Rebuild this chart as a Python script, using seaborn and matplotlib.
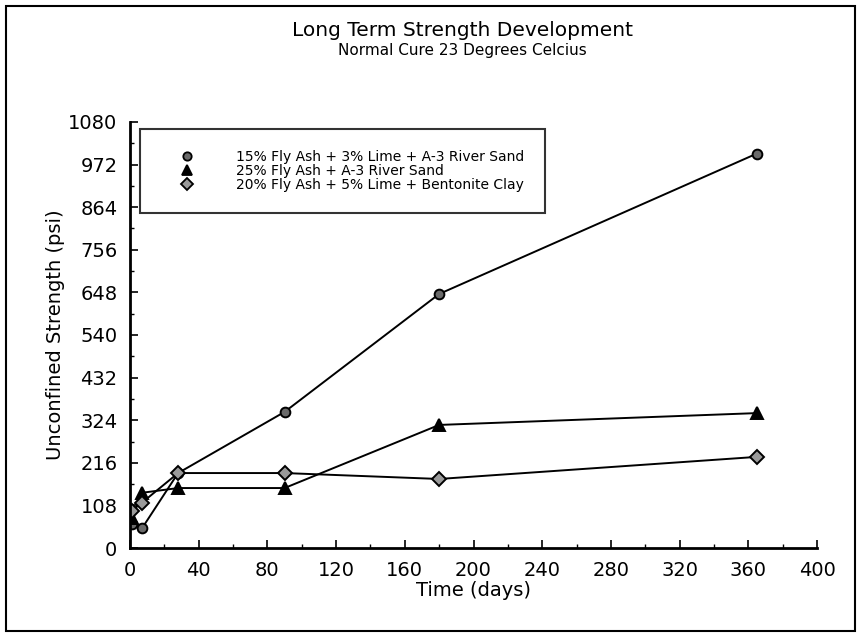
import matplotlib
matplotlib.use("Agg")
import matplotlib.pyplot as plt
from matplotlib.lines import Line2D
from matplotlib.patches import Rectangle
from matplotlib.ticker import MultipleLocator
import seaborn as sns
import pandas as pd

# Curing time (days) and unconfined compressive strength (psi) for each mix
days = [1, 7, 28, 90, 180, 365]
mix_names = [
    "15% Fly Ash + 3% Lime + A-3 River Sand",
    "25% Fly Ash + A-3 River Sand",
    "20% Fly Ash + 5% Lime + Bentonite Clay",
]
strength_flyash_lime_sand = [60, 50, 190, 345, 644, 1000]
strength_flyash_sand = [75, 140, 152, 152, 312, 342]
strength_flyash_lime_clay = [95, 115, 190, 190, 175, 231]

x_ticks = [0, 40, 80, 120, 160, 200, 240, 280, 320, 360, 400]
y_ticks = [0, 108, 216, 324, 432, 540, 648, 756, 864, 972, 1080]

df = pd.DataFrame({
    "Time": days * 3,
    "Strength": strength_flyash_lime_sand + strength_flyash_sand + strength_flyash_lime_clay,
    "Mix": [mix_names[0]] * len(days) + [mix_names[1]] * len(days) + [mix_names[2]] * len(days),
})

sns.set_theme(style="ticks")
plt.rcParams["font.family"] = ["DejaVu Sans"]
plt.rcParams["text.color"] = "black"
plt.rcParams["axes.labelcolor"] = "black"
plt.rcParams["xtick.color"] = "black"
plt.rcParams["ytick.color"] = "black"

fig = plt.figure(figsize=(8.59, 6.34), dpi=100)
ax = fig.add_axes([130 / 859, 1 - 548 / 634, 687 / 859, 426 / 634])

marker_style = {
    mix_names[0]: dict(marker="o", mfc="#6a6a6a", ms=7),
    mix_names[1]: dict(marker="^", mfc="black", ms=8),
    mix_names[2]: dict(marker="D", mfc="#9a9a9a", ms=7),
}

for name in mix_names:
    sub = df[df["Mix"] == name]
    st = marker_style[name]
    sns.lineplot(data=sub, x="Time", y="Strength", ax=ax, color="black",
                 linewidth=1.4, marker=st["marker"], markersize=st["ms"],
                 markerfacecolor=st["mfc"], markeredgecolor="black",
                 markeredgewidth=1.4, legend=False)

ax.set_xlim(0, 400)
ax.set_ylim(0, 1080)
ax.set_xticks(x_ticks)
ax.set_yticks(y_ticks)
ax.xaxis.set_minor_locator(MultipleLocator(20))
ax.yaxis.set_minor_locator(MultipleLocator(54))
ax.tick_params(axis="both", which="major", direction="in", length=6, width=1.2,
               labelsize=14, pad=9, colors="black")
ax.tick_params(axis="both", which="minor", direction="in", length=3, width=1.0)
for side in ("top", "right"):
    ax.spines[side].set_visible(False)
for side in ("left", "bottom"):
    ax.spines[side].set_linewidth(2.0)
    ax.spines[side].set_color("black")

ax.set_xlabel("Time (days)", fontsize=14, labelpad=1)
ax.set_ylabel("Unconfined Strength (psi)", fontsize=14, labelpad=2)

fig.text(462 / 859, 1 - 30 / 634, "Long Term Strength Development",
         ha="center", va="center", fontsize=14.5)
fig.text(462 / 859, 1 - 51 / 634, "Normal Cure 23 Degrees Celcius",
         ha="center", va="center", fontsize=11)

handles = []
for name in mix_names:
    st = marker_style[name]
    handles.append(Line2D([], [], linestyle="none", marker=st["marker"],
                          markersize=st["ms"] - 1, markerfacecolor=st["mfc"],
                          markeredgecolor="black", markeredgewidth=1.3))
leg = ax.legend(handles, mix_names, loc="upper left",
                bbox_to_anchor=(140 / 859, 1 - 129 / 634),
                bbox_transform=fig.transFigure, borderaxespad=0,
                fontsize=10, frameon=True, fancybox=False,
                borderpad=1.5, labelspacing=0.0, handlelength=3.8,
                handletextpad=1.6)
leg.get_frame().set_edgecolor("black")
leg.get_frame().set_linewidth(1.5)

# Outer frame around the whole figure
fig.patches.append(Rectangle((6 / 859, 1 - 631 / 634), 849 / 859, 625 / 634,
                             transform=fig.transFigure, fill=False,
                             edgecolor="black", linewidth=1.5))

fig.savefig("out.png", dpi=100, facecolor="white")
